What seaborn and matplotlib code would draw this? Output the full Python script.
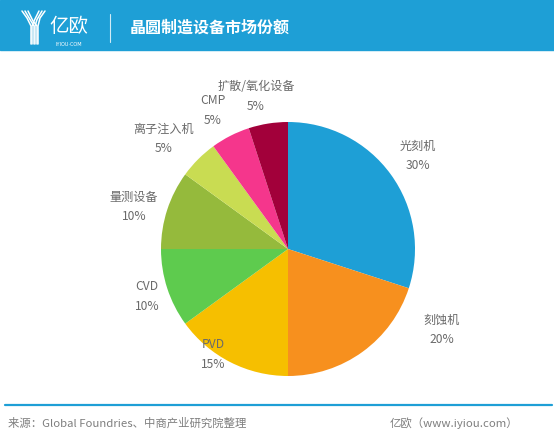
import matplotlib
matplotlib.use("Agg")
import matplotlib.pyplot as plt
import seaborn as sns
import numpy as np
from matplotlib.patches import Rectangle
from matplotlib.lines import Line2D

sns.set_style("white")
plt.rcParams['font.family'] = ['Noto Sans CJK SC', 'DejaVu Sans']

# ---- data ----
categories = ["光刻机", "刻蚀机", "PVD", "CVD", "量测设备", "离子注入机", "CMP", "扩散/氧化设备"]
shares = [30, 20, 15, 10, 10, 5, 5, 5]
colors = ["#1E9FD6", "#F7901E", "#F6BF00", "#5ECB4E", "#95BA3C", "#C9DC52", "#F5368C", "#A2003A"]
# label centre positions in pixels (x, y from top)
label_px = [(418, 146), (442, 320), (213, 345), (147, 287), (134, 197), (164, 129), (213, 101), (256, 87)]

W, H = 554, 441
fig = plt.figure(figsize=(W / 100, H / 100), dpi=100)
fig.patch.set_facecolor("white")

# header band
hdr = "#1E9FD6"
fig.add_artist(Rectangle((0, 1 - 50 / H), 1, 50 / H, transform=fig.transFigure, color=hdr, zorder=0))

def fx(px):
    return px / W

def fy(py):
    return 1 - py / H

# logo icon (stylised Y)
for dx in [0, 3, 6]:
    xs = np.array([22 + dx, 27 + dx, 31 + dx, 31 + dx])
    ys = np.array([11, 18 + dx * 0.5, 26, 44])
    fig.add_artist(Line2D(fx(xs), fy(ys), transform=fig.transFigure, color="white", lw=1.1))
for dx in [0, 3, 6]:
    xs = np.array([45 - dx, 40 - dx, 36 - dx + 2, 36 - dx + 2])
    ys = np.array([11, 18 + dx * 0.5, 26, 44])
    fig.add_artist(Line2D(fx(xs), fy(ys), transform=fig.transFigure, color="white", lw=1.1))

fig.text(fx(69), fy(26), "亿欧", color="white", fontsize=14, fontweight="light",
         ha="center", va="center")
fig.text(fx(69), fy(44), "IYIOU·COM", color="white", fontsize=3.6, ha="center", va="center",
         family=["DejaVu Sans"])
fig.add_artist(Line2D([fx(110), fx(110)], [fy(14), fy(42)], transform=fig.transFigure,
                      color="white", lw=0.8, alpha=0.8))
fig.text(fx(130), fy(28), "晶圆制造设备市场份额", color="white", fontsize=11.5,
         fontweight="bold", ha="left", va="center")

# footer
fig.add_artist(Line2D([fx(5), fx(552)], [fy(404.5), fy(404.5)], transform=fig.transFigure,
                      color=hdr, lw=1.6))
fig.text(fx(8), fy(423), "来源：Global Foundries、中商产业研究院整理", color="#7f7f7f",
         fontsize=8.2, ha="left", va="center", fontweight="light")
fig.text(fx(518), fy(423), "亿欧（www.iyiou.com）", color="#7f7f7f",
         fontsize=8.2, ha="right", va="center", fontweight="light")

# pie
cx, cy, R = 288, 249, 127
ax = fig.add_axes([(cx - R) / W, (H - cy - R) / H, 2 * R / W, 2 * R / H])
ax.pie(shares, colors=colors, startangle=90, counterclock=False, radius=1,
       wedgeprops=dict(linewidth=0))
ax.set_xlim(-1, 1)
ax.set_ylim(-1, 1)
ax.set_aspect("equal")
ax.axis("off")

for name, val, (px, py) in zip(categories, shares, label_px):
    x = (px - cx) / R
    y = (cy - py) / R
    ax.text(x, y, name, ha="center", va="center", fontsize=8.7, color="#6a6a6a",
            clip_on=False, fontweight="light")
    ax.text(x, y - 19.5 / R, f"{val}%", ha="center", va="center", fontsize=8.7,
            color="#6a6a6a", clip_on=False, fontweight="light")

fig.savefig("out.png", dpi=100)
